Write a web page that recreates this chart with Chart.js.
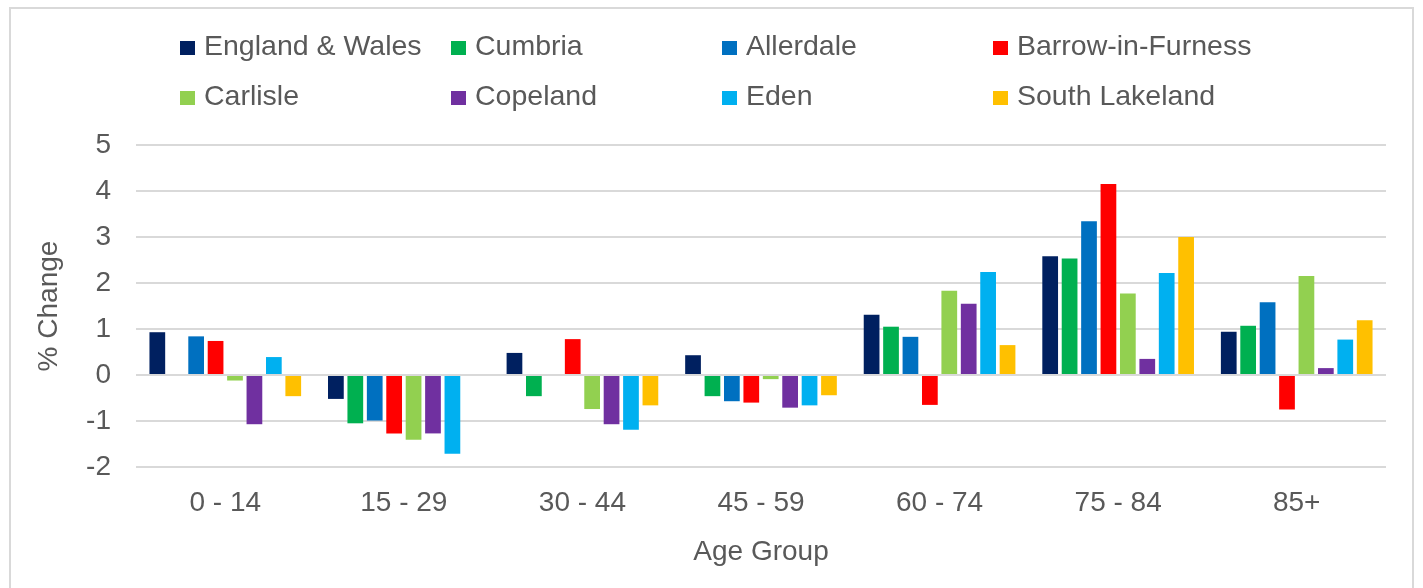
<!DOCTYPE html>
<html>
<head>
<meta charset="utf-8">
<script src="https://cdn.jsdelivr.net/npm/chart.js@4/dist/chart.umd.min.js"></script>
<style>
  body { margin: 0; background: #fff; }
  #wrap { position: relative; width: 1423px; height: 588px; overflow: hidden; }
  #frame { position: absolute; left: 9px; top: 7px; width: 1405px; height: 600px; border: 2px solid #d9d9d9; box-sizing: border-box; }
  #myChart { position: absolute; left: 0; top: 0; }
  #legend { position: absolute; left: 180px; top: 31px; display: grid; grid-template-columns: repeat(4, 271px); }
  .item { display: flex; align-items: flex-start; height: 50px; font: 28.5px "Liberation Sans", Arial, sans-serif; line-height: 28px; color: #595959; white-space: nowrap; }
  .box { width: 15px; height: 14px; margin-top: 10px; margin-right: 9px; }
</style>
</head>
<body>
<div id="wrap">
  <div id="frame"></div>
  <canvas id="myChart" width="1423" height="588"></canvas>
  <div id="legend"></div>
</div>
<script>
// age groups on the x axis
const ageGroups = ["0 - 14", "15 - 29", "30 - 44", "45 - 59", "60 - 74", "75 - 84", "85+"];

// % change per area
const englandWales  = [0.93, -0.52, 0.48, 0.43, 1.31, 2.58, 0.94];
const cumbria       = [0, -1.05, -0.46, -0.46, 1.05, 2.53, 1.07];
const allerdale     = [0.84, -0.99, 0, -0.57, 0.83, 3.34, 1.58];
const barrow        = [0.74, -1.27, 0.78, -0.60, -0.65, 4.15, -0.75];
const carlisle      = [-0.12, -1.41, -0.74, -0.09, 1.83, 1.77, 2.15];
const copeland      = [-1.07, -1.27, -1.07, -0.71, 1.55, 0.35, 0.15];
const eden          = [0.39, -1.71, -1.19, -0.66, 2.24, 2.22, 0.77];
const southLakeland = [-0.46, 0, -0.66, -0.44, 0.65, 3.00, 1.19];

const areaNames = ["England & Wales", "Cumbria", "Allerdale", "Barrow-in-Furness", "Carlisle", "Copeland", "Eden", "South Lakeland"];
const areaValues = [englandWales, cumbria, allerdale, barrow, carlisle, copeland, eden, southLakeland];
const areaColors = ["#002060", "#00b050", "#0070c0", "#ff0000", "#92d050", "#7030a0", "#00b0f0", "#ffc000"];

// y axis range
const yMin = -2;
const yMax = 5;
const yStep = 1;

const txt = "#595959";
const fontFam = "'Liberation Sans', Arial, sans-serif";

const datasets = areaNames.map((name, i) => ({
  label: name,
  data: areaValues[i],
  backgroundColor: areaColors[i],
  borderWidth: 0
}));

// legend in a 4 column grid like the excel one
const legendDiv = document.getElementById("legend");
areaNames.forEach((name, i) => {
  const it = document.createElement("div");
  it.className = "item";
  const b = document.createElement("span");
  b.className = "box";
  b.style.background = areaColors[i];
  const t = document.createElement("span");
  t.textContent = name;
  it.appendChild(b);
  it.appendChild(t);
  legendDiv.appendChild(it);
});

const ctx = document.getElementById("myChart").getContext("2d");
const myChart = new Chart(ctx, {
  type: "bar",
  data: { labels: ageGroups, datasets: datasets },
  options: {
    responsive: false,
    animation: false,
    devicePixelRatio: 1,
    layout: { padding: { top: 145, right: 37, bottom: 0, left: 0 } },
    datasets: { bar: { categoryPercentage: 0.87, barPercentage: 0.81 } },
    plugins: {
      legend: { display: false },
      tooltip: { enabled: false }
    },
    scales: {
      x: {
        grid: { display: false },
        border: { display: false },
        ticks: { color: txt, font: { family: fontFam, size: 28 }, padding: 11, maxRotation: 0 },
        title: { display: true, text: "Age Group", color: txt, font: { family: fontFam, size: 28 }, padding: { top: 0, bottom: 19 } },
        afterFit(scale) { scale.height = 121; }
      },
      y: {
        min: yMin,
        max: yMax,
        grid: { color: "#d9d9d9", lineWidth: 2, drawTicks: false },
        border: { display: false },
        ticks: { stepSize: yStep, color: txt, font: { family: fontFam, size: 28 }, padding: 25 },
        title: { display: true, text: "% Change", color: txt, font: { family: fontFam, size: 28 }, padding: { top: 32, bottom: 0 } },
        afterFit(scale) { scale.width = 136; }
      }
    }
  }
});
</script>
</body>
</html>
